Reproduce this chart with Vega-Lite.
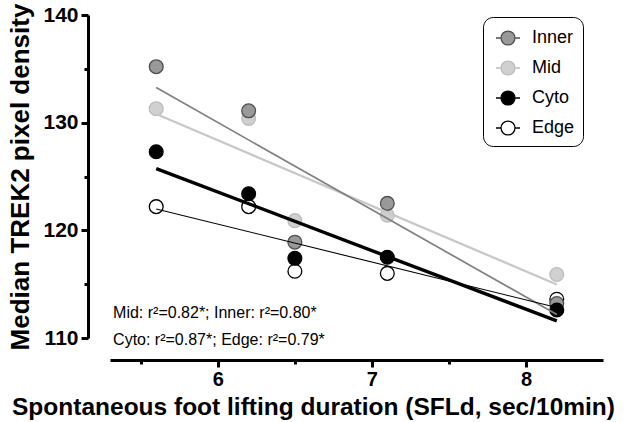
{
  "$schema": "https://vega.github.io/schema/vega-lite/v6.json",
  "autosize": "none",
  "width": 493,
  "height": 323,
  "padding": {"left": 110, "top": 15, "right": 32, "bottom": 84},
  "background": "white",
  "config": {
    "view": {"stroke": null},
    "font": "Liberation Sans",
    "axis": {"grid": false, "domainColor": "black", "tickColor": "black", "labelColor": "black", "titleColor": "black", "domainWidth": 3, "tickWidth": 3, "labelFontWeight": "bold", "labelFontSize": 21, "titleFontWeight": "bold"}
  },
  "datasets": {
    "pts": [
      {"g": "Mid", "x": 5.6, "y": 131.3}, {"g": "Mid", "x": 6.2, "y": 130.4}, {"g": "Mid", "x": 6.5, "y": 120.9}, {"g": "Mid", "x": 7.1, "y": 121.4}, {"g": "Mid", "x": 8.2, "y": 115.9},
      {"g": "Edge", "x": 5.6, "y": 122.2}, {"g": "Edge", "x": 6.2, "y": 122.2}, {"g": "Edge", "x": 6.5, "y": 116.2}, {"g": "Edge", "x": 7.1, "y": 116.0}, {"g": "Edge", "x": 8.2, "y": 113.6},
      {"g": "Inner", "x": 5.6, "y": 135.2}, {"g": "Inner", "x": 6.2, "y": 131.1}, {"g": "Inner", "x": 6.5, "y": 118.9}, {"g": "Inner", "x": 7.1, "y": 122.5}, {"g": "Inner", "x": 8.2, "y": 113.2},
      {"g": "Cyto", "x": 5.6, "y": 127.3}, {"g": "Cyto", "x": 6.2, "y": 123.4}, {"g": "Cyto", "x": 6.5, "y": 117.4}, {"g": "Cyto", "x": 7.1, "y": 117.5}, {"g": "Cyto", "x": 8.2, "y": 112.6}
    ],
    "notes": [
      {"t": ["Mid: r²=0.82*; Inner: r²=0.80*", "Cyto: r²=0.87*; Edge: r²=0.79*"], "x": 5.32, "y": 113.1}
    ]
  },
  "layer": [
    {
      "data": {"name": "pts"},
      "mark": {"type": "circle", "size": 190, "opacity": 1, "strokeWidth": 1.3},
      "encoding": {
        "x": {"field": "x", "type": "quantitative", "scale": {"domain": [5.3, 8.5], "nice": false, "zero": false},
          "axis": {"values": [5.5, 6, 6.5, 7, 7.5, 8], "labelExpr": "datum.value % 1 === 0 ? format(datum.value, 'd') : ''",
            "tickSize": {"condition": {"test": "datum.value % 1 === 0", "value": 7}, "value": 4},
            "offset": 22, "labelPadding": 2, "labelFontSize": 20, "title": "Spontaneous foot lifting duration (SFLd, sec/10min)",
            "titleFontSize": 24.5, "titleX": 203, "titleY": 54, "titleBaseline": "alphabetic", "titleAlign": "center"}},
        "y": {"field": "y", "type": "quantitative", "scale": {"domain": [110, 140], "nice": false, "zero": false},
          "axis": {"values": [110, 115, 120, 125, 130, 135, 140], "labelExpr": "datum.value % 10 === 0 ? datum.label : ''",
            "tickSize": {"condition": {"test": "datum.value % 10 === 0", "value": 7}, "value": 4},
            "offset": 22, "labelPadding": 3, "titlePadding": 9, "titleFontSize": 26, "title": "Median TREK2 pixel density"}},
        "fill": {"field": "g", "type": "nominal", "scale": {"domain": ["Inner", "Mid", "Cyto", "Edge"], "range": ["#999999", "#d0d0d0", "#000000", "#ffffff"]},
          "legend": {"title": null, "orient": "none", "legendX": 373, "legendY": 2, "strokeColor": "black", "cornerRadius": 10, "padding": 8,
            "fillColor": "white", "symbolType": "M-1,0H-0.58M0.58,0H1M-0.58,0A0.58,0.58,0,1,0,0.58,0A0.58,0.58,0,1,0,-0.58,0Z",
            "symbolSize": 576, "symbolOffset": 4, "symbolStrokeWidth": 1.3, "labelFontSize": 18, "labelColor": "black", "labelOffset": 11, "rowPadding": 7}},
        "stroke": {"field": "g", "type": "nominal", "scale": {"domain": ["Inner", "Mid", "Cyto", "Edge"], "range": ["#505050", "#bdbdbd", "#000000", "#000000"]}, "legend": {"title": null}}
      }
    },
    {
      "data": {"name": "pts"},
      "transform": [{"filter": "datum.g === 'Mid'"}, {"regression": "y", "on": "x"}],
      "mark": {"type": "line", "color": "#c8c8c8", "strokeWidth": 2.3},
      "encoding": {"x": {"field": "x", "type": "quantitative"}, "y": {"field": "y", "type": "quantitative"}}
    },
    {
      "data": {"name": "pts"},
      "transform": [{"filter": "datum.g === 'Inner'"}, {"regression": "y", "on": "x"}],
      "mark": {"type": "line", "color": "#808080", "strokeWidth": 1.7},
      "encoding": {"x": {"field": "x", "type": "quantitative"}, "y": {"field": "y", "type": "quantitative"}}
    },
    {
      "data": {"name": "pts"},
      "transform": [{"filter": "datum.g === 'Edge'"}, {"regression": "y", "on": "x"}],
      "mark": {"type": "line", "color": "#000000", "strokeWidth": 1.1},
      "encoding": {"x": {"field": "x", "type": "quantitative"}, "y": {"field": "y", "type": "quantitative"}}
    },
    {
      "data": {"name": "pts"},
      "transform": [{"filter": "datum.g === 'Cyto'"}, {"regression": "y", "on": "x"}],
      "mark": {"type": "line", "color": "#000000", "strokeWidth": 3.4},
      "encoding": {"x": {"field": "x", "type": "quantitative"}, "y": {"field": "y", "type": "quantitative"}}
    },
    {
      "data": {"name": "notes"},
      "mark": {"type": "text", "align": "left", "baseline": "top", "fontSize": 16, "lineHeight": 27, "color": "black"},
      "encoding": {
        "x": {"field": "x", "type": "quantitative"},
        "y": {"field": "y", "type": "quantitative"},
        "text": {"field": "t"}
      }
    }
  ]
}
